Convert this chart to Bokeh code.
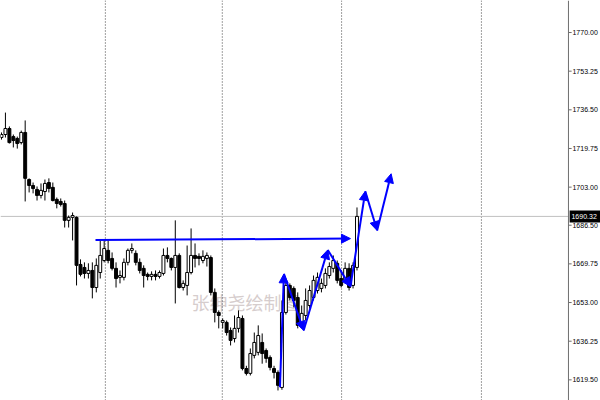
from bokeh.plotting import figure
from bokeh.models import Range1d, Span, Label, Arrow, NormalHead, ColumnDataSource
from bokeh.embed import file_html
from bokeh.resources import INLINE
from bokeh.core.properties import value

# ---- data ----
opens = [1724.5, 1725.8, 1728.4, 1724.9, 1724.1, 1722.3, 1726.7, 1706.3, 1703.7, 1702.0,
         1699.4, 1701.1, 1705.0, 1702.9, 1697.7, 1696.8, 1695.9, 1688.6, 1689.9, 1689.9,
         1669.5, 1668.2, 1665.6, 1666.9, 1659.5, 1666.0, 1671.2, 1675.6, 1672.1, 1667.8,
         1663.9, 1663.9, 1670.4, 1675.6, 1674.3, 1670.4, 1667.8, 1665.2, 1664.3, 1665.2,
         1664.3, 1665.6, 1673.4, 1672.1, 1668.2, 1673.4, 1659.5, 1660.4, 1666.0, 1673.4,
         1673.0, 1671.2, 1672.1, 1672.5, 1657.4, 1648.7, 1644.4, 1644.4, 1640.9, 1637.4,
         1641.8, 1646.1, 1624.4, 1622.3, 1630.1, 1631.4, 1635.7, 1632.2, 1629.2, 1624.4,
         1622.7, 1616.2, 1648.7, 1660.4, 1659.1, 1655.2, 1644.4, 1647.4, 1651.7, 1655.2,
         1658.2, 1659.1, 1660.4, 1664.7, 1667.8, 1670.0, 1663.4, 1662.6, 1667.8, 1660.4,
         1668.2]
highs = [1726.7, 1735.3, 1729.3, 1725.8, 1724.9, 1727.5, 1731.9, 1706.8, 1705.0, 1703.3,
         1704.6, 1706.3, 1706.8, 1705.0, 1698.5, 1698.1, 1697.2, 1690.7, 1692.0, 1690.3,
         1671.7, 1670.4, 1670.0, 1670.4, 1672.1, 1679.9, 1679.9, 1679.9, 1674.7, 1670.4,
         1666.9, 1672.1, 1676.4, 1678.6, 1675.6, 1672.1, 1669.1, 1666.0, 1666.5, 1666.9,
         1666.9, 1676.4, 1676.9, 1672.5, 1688.6, 1674.3, 1662.6, 1677.7, 1685.1, 1678.6,
         1674.3, 1675.6, 1674.7, 1673.4, 1659.1, 1649.6, 1646.1, 1645.2, 1642.2, 1647.4,
         1649.6, 1647.4, 1625.6, 1633.1, 1640.0, 1643.1, 1639.6, 1633.1, 1630.1, 1625.6,
         1623.6, 1653.9, 1662.6, 1661.3, 1660.0, 1657.4, 1651.7, 1659.1, 1660.4, 1664.7,
         1666.0, 1663.4, 1667.8, 1670.4, 1673.4, 1671.2, 1666.9, 1670.4, 1670.0, 1670.4,
         1694.2]
lows = [1723.6, 1724.5, 1721.9, 1720.2, 1719.7, 1721.5, 1696.8, 1700.7, 1700.3, 1697.2,
        1698.1, 1697.2, 1700.7, 1696.8, 1693.8, 1694.6, 1685.5, 1685.5, 1679.9, 1660.4,
        1664.3, 1663.4, 1663.4, 1654.8, 1657.4, 1663.4, 1670.4, 1670.0, 1666.9, 1659.5,
        1661.3, 1662.6, 1669.1, 1674.3, 1669.1, 1665.6, 1659.5, 1662.6, 1662.6, 1662.6,
        1663.4, 1664.7, 1670.4, 1666.9, 1652.6, 1659.1, 1658.2, 1656.1, 1665.2, 1668.2,
        1669.1, 1670.0, 1668.6, 1656.1, 1644.4, 1641.8, 1641.8, 1638.7, 1634.4, 1635.7,
        1640.0, 1623.6, 1621.4, 1621.4, 1628.8, 1630.1, 1626.5, 1626.9, 1623.6, 1620.1,
        1614.9, 1615.2, 1647.8, 1653.9, 1650.9, 1641.8, 1643.1, 1645.2, 1650.4, 1653.9,
        1656.9, 1657.4, 1659.1, 1663.4, 1666.0, 1661.3, 1659.5, 1661.3, 1658.2, 1659.1,
        1666.9]
closes = [1725.8, 1728.4, 1722.3, 1723.2, 1721.9, 1726.7, 1706.8, 1703.7, 1702.4, 1699.4,
          1701.6, 1704.6, 1702.4, 1697.2, 1695.9, 1695.5, 1688.6, 1689.9, 1690.7, 1669.1,
          1665.2, 1665.6, 1666.9, 1659.5, 1669.1, 1673.4, 1676.4, 1671.2, 1667.8, 1663.4,
          1664.7, 1670.4, 1675.6, 1676.4, 1670.4, 1666.9, 1664.7, 1664.3, 1665.2, 1664.3,
          1666.0, 1673.4, 1672.1, 1668.2, 1673.4, 1659.5, 1661.3, 1666.0, 1673.4, 1672.1,
          1672.1, 1673.0, 1673.4, 1657.4, 1648.7, 1647.4, 1645.2, 1640.0, 1636.6, 1641.8,
          1646.5, 1624.4, 1622.3, 1630.9, 1635.7, 1638.7, 1630.9, 1628.8, 1624.9, 1622.7,
          1617.1, 1648.7, 1660.4, 1655.2, 1653.9, 1643.1, 1648.3, 1653.9, 1658.2, 1662.6,
          1663.9, 1661.3, 1665.6, 1668.6, 1671.2, 1662.6, 1660.4, 1667.8, 1659.5, 1669.1,
          1690.32]

price_ticks = [1619.50, 1636.25, 1653.00, 1669.75, 1686.50,
               1703.00, 1719.75, 1736.50, 1753.25, 1770.00]
price_tick_labels = ["1619.50", "1636.25", "1653.00", "1669.75", "1686.50",
                     "1703.00", "1719.75", "1736.50", "1753.25", "1770.00"]
last_price = 1690.32
last_price_label = "1690.32"
grid_bars = [26.3, 55.9, 86.1, 121.5]

flat_arrow_x = [23.8, 88.35]
flat_arrow_y = [1680.1, 1680.7]
zigzag_x = [70.5, 71.5, 76.5, 82.6, 88.35, 92.1, 95.1, 98.65]
zigzag_y = [1616.3, 1665.4, 1640.9, 1675.8, 1659.9, 1701.2, 1684.2, 1708.8]

watermark_text = "张绅尧绘制图"
watermark_x = 48.1
watermark_y = 1653.4

# ---- layout constants (bar units) ----
X_LEFT, X_RIGHT = -0.25, 151.65
Y_BOTTOM, Y_TOP = 1610.55, 1783.87
PRICE_SCALE_X = 143.54     # where the MT4 price scale begins
TICK_LEN = 0.8

p = figure(width=600, height=400, output_backend="svg", toolbar_location=None,
           x_range=Range1d(X_LEFT, X_RIGHT), y_range=Range1d(Y_BOTTOM, Y_TOP),
           x_axis_location=None, y_axis_location=None,
           min_border_left=0, min_border_top=0, min_border_bottom=0, min_border_right=0)
p.xgrid.visible = False
p.ygrid.visible = False
p.outline_line_color = None
p.background_fill_color = "white"
p.border_fill_color = "white"

# watermark (under the candles)
p.add_layout(Label(x=watermark_x, y=watermark_y, text=watermark_text,
                   text_font="Noto Sans CJK SC", text_font_size="18px",
                   text_color="#d6cdcd", text_baseline="middle", text_align="left",
                   level="underlay"))

# dotted time grid and current price line
for g in grid_bars:
    p.add_layout(Span(location=g, dimension="height", line_color="#404040",
                      line_dash="1 2", line_width=1, level="underlay"))
p.add_layout(Span(location=last_price, dimension="width", line_color="#c0c0c0",
                  line_width=1, level="underlay"))

# candles
idx = list(range(len(opens)))
tops = [max(o, c) for o, c in zip(opens, closes)]
bots = [min(o, c) for o, c in zip(opens, closes)]
fills = ["white" if c >= o else "black" for o, c in zip(opens, closes)]
src = ColumnDataSource(dict(x=idx, h=highs, l=lows, t=tops, b=bots, f=fills))
p.segment(x0="x", y0="h", x1="x", y1="l", source=src, line_color="black", line_width=1)
p.vbar(x="x", top="t", bottom="b", width=0.74, source=src, fill_color="f",
       line_color="black", line_width=1)

# arrows
blue = "#0000ff"
flat_src = ColumnDataSource(dict(x0=[flat_arrow_x[0]], y0=[flat_arrow_y[0]],
                                 x1=[flat_arrow_x[1]], y1=[flat_arrow_y[1]]))
p.add_layout(Arrow(end=NormalHead(size=9, fill_color=blue, line_color=blue),
                   x_start="x0", y_start="y0", x_end="x1", y_end="y1", source=flat_src,
                   line_color=blue, line_width=2))
zz_src = ColumnDataSource(dict(x0=zigzag_x[:-1], y0=zigzag_y[:-1],
                               x1=zigzag_x[1:], y1=zigzag_y[1:]))
p.add_layout(Arrow(end=NormalHead(size=9, fill_color=blue, line_color=blue),
                   x_start="x0", y_start="y0", x_end="x1", y_end="y1", source=zz_src,
                   line_color=blue, line_width=2))

# price scale on the right (MT4 style)
p.quad(left=PRICE_SCALE_X, right=X_RIGHT, bottom=Y_BOTTOM, top=Y_TOP,
       fill_color="white", line_color=None)
p.add_layout(Span(location=PRICE_SCALE_X, dimension="height", line_color="#6e6e6e",
                  line_width=1))
p.segment(x0=[PRICE_SCALE_X] * len(price_ticks), y0=price_ticks,
          x1=[PRICE_SCALE_X + TICK_LEN] * len(price_ticks), y1=price_ticks,
          line_color="#6e6e6e", line_width=1)
p.text(x=[PRICE_SCALE_X] * len(price_ticks), y=price_ticks, text=price_tick_labels,
       x_offset=4, text_baseline="middle", text_align="left",
       text_font=value("Liberation Sans"), text_font_size="7px", text_color="black")

# current price tag
p.rect(x=[(PRICE_SCALE_X + X_RIGHT) / 2 + 0.15], y=[last_price],
       width=X_RIGHT - PRICE_SCALE_X - 0.3, height=12, height_units="screen",
       fill_color="black", line_color=None)
p.text(x=[PRICE_SCALE_X], y=[last_price], text=[last_price_label], x_offset=3,
       text_baseline="middle", text_align="left",
       text_font=value("Liberation Sans"), text_font_size="7px", text_color="white")

open("out.html", "w").write(file_html(p, INLINE))
